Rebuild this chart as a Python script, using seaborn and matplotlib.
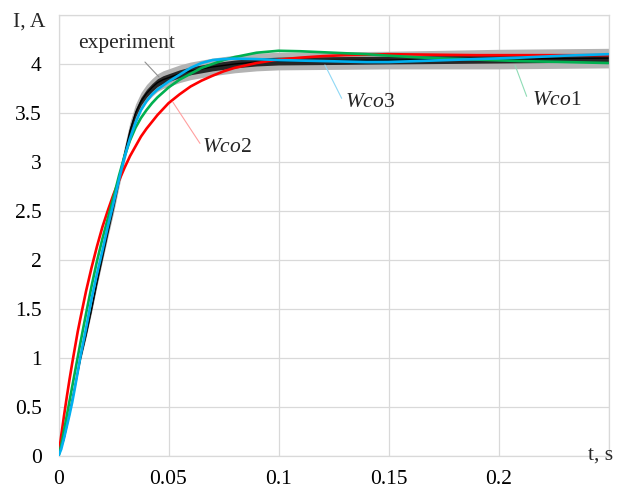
import numpy as np
import pandas as pd
import matplotlib
matplotlib.use("Agg")
import matplotlib.pyplot as plt
import seaborn as sns

# ---- data ----
t_model = [0, 0.00125, 0.0025, 0.00375, 0.005, 0.00625, 0.0075, 0.00875, 0.01,
           0.0125, 0.015, 0.0175, 0.02, 0.0225, 0.025, 0.0275, 0.03, 0.0325,
           0.035, 0.0375, 0.04, 0.0425, 0.045, 0.0475, 0.05, 0.055, 0.06, 0.065,
           0.07, 0.075, 0.08, 0.09, 0.1, 0.11, 0.12, 0.13, 0.14, 0.15, 0.17,
           0.19, 0.21, 0.23, 0.25]
i_wco1 = [0, 0.11, 0.26, 0.41, 0.56, 0.71, 0.86, 1.01, 1.16,
          1.45, 1.73, 1.99, 2.22, 2.43, 2.64, 2.86, 3.06, 3.22,
          3.35, 3.45, 3.53, 3.60, 3.66, 3.71, 3.76, 3.84, 3.90, 3.96,
          4.00, 4.04, 4.07, 4.115, 4.135, 4.13, 4.12, 4.11, 4.10, 4.085, 4.06,
          4.045, 4.03, 4.02, 4.01]
i_wco2 = [0, 0.21, 0.41, 0.60, 0.78, 0.95, 1.11, 1.27, 1.41,
          1.68, 1.92, 2.14, 2.34, 2.51, 2.67, 2.81, 2.94, 3.06,
          3.16, 3.26, 3.34, 3.41, 3.48, 3.54, 3.60, 3.69, 3.77, 3.83,
          3.88, 3.925, 3.96, 4.01, 4.045, 4.065, 4.08, 4.09, 4.095, 4.10, 4.095,
          4.09, 4.09, 4.09, 4.09]
i_wco3 = [0, 0.07, 0.18, 0.30, 0.42, 0.55, 0.70, 0.86, 1.02,
          1.30, 1.60, 1.86, 2.10, 2.35, 2.58, 2.82, 3.05, 3.24,
          3.40, 3.53, 3.62, 3.69, 3.74, 3.78, 3.82, 3.89, 3.96, 4.01,
          4.04, 4.05, 4.055, 4.05, 4.04, 4.035, 4.03, 4.025, 4.02, 4.02, 4.035,
          4.05, 4.065, 4.085, 4.10]

t_exp = [0, 0.0025, 0.005, 0.0075, 0.01, 0.0125, 0.015, 0.0175, 0.02, 0.0225,
         0.025, 0.0275, 0.03, 0.0325, 0.035, 0.0375, 0.04, 0.0425, 0.045, 0.0475,
         0.05, 0.055, 0.06, 0.065, 0.07, 0.08, 0.09, 0.1, 0.15, 0.2, 0.25]
i_exp = [0, 0.18, 0.44, 0.72, 1.00, 1.24, 1.50, 1.78, 2.04, 2.30,
         2.55, 2.82, 3.08, 3.32, 3.50, 3.62, 3.70, 3.76, 3.81, 3.84,
         3.86, 3.90, 3.93, 3.95, 3.97, 4.00, 4.02, 4.03, 4.04, 4.05, 4.06]
exp_core = [0, 0.01, 0.012, 0.015, 0.015, 0.018, 0.02, 0.022, 0.025, 0.028,
            0.03, 0.032, 0.035, 0.04, 0.04, 0.04, 0.04, 0.04, 0.04, 0.04,
            0.04, 0.04, 0.04, 0.04, 0.04, 0.04, 0.04, 0.04, 0.04, 0.04, 0.04]
exp_spike = [0, 0.02, 0.025, 0.03, 0.03, 0.035, 0.04, 0.045, 0.05, 0.06,
             0.07, 0.075, 0.08, 0.09, 0.09, 0.09, 0.09, 0.09, 0.09, 0.09,
             0.09, 0.09, 0.09, 0.09, 0.09, 0.09, 0.09, 0.09, 0.09, 0.10, 0.10]

x_ticks = [0, 0.05, 0.1, 0.15, 0.2, 0.25]
x_labels = ["0", "0.05", "0.1", "0.15", "0.2", ""]
y_ticks = [0, 0.5, 1, 1.5, 2, 2.5, 3, 3.5, 4, 4.5]
y_labels = ["0", "0.5", "1", "1.5", "2", "2.5", "3", "3.5", "4", ""]

series_names = ["Wco2", "Wco1", "Wco3"]
series_colors = {"Wco1": "#00b050", "Wco2": "#ff0000", "Wco3": "#00b0f0"}

# ---- figure ----
sns.set_theme(style="white")
plt.rcParams['font.family'] = ['Liberation Serif', 'DejaVu Serif']
plt.rcParams['mathtext.fontset'] = 'custom'
plt.rcParams['mathtext.it'] = 'Liberation Serif:italic'
plt.rcParams['mathtext.rm'] = 'Liberation Serif'

FS = 15.5

fig = plt.figure(figsize=(6.19, 4.90), dpi=100)
ax = fig.add_axes([58.5 / 619, 34 / 490, 550 / 619, 441 / 490])

# experiment: noisy band
t_e = np.array(t_exp)
c_e = np.array(i_exp)
core = np.array(exp_core)
spike = np.array(exp_spike)
ax.fill_between(t_e, c_e - spike, c_e + spike, color="#b3b3b3", lw=0, zorder=2)
ax.fill_between(t_e, c_e - core, c_e + core, color="#262626", lw=0, zorder=2.1)
exp_df = pd.DataFrame({"t": t_exp, "I": i_exp})
sns.lineplot(data=exp_df, x="t", y="I", color="black", lw=1.0, ax=ax,
             sort=False, zorder=2.2)

# model curves
rows = []
for name, vals in (("Wco1", i_wco1), ("Wco2", i_wco2), ("Wco3", i_wco3)):
    for tt, vv in zip(t_model, vals):
        rows.append({"t": tt, "I": vv, "model": name})
df = pd.DataFrame(rows)
sns.lineplot(data=df, x="t", y="I", hue="model", hue_order=series_names,
             palette=series_colors, lw=1.9, ax=ax, sort=False, legend=False,
             zorder=3)

ax.set_xlim(0, 0.25)
ax.set_ylim(0, 4.5)
ax.set_xticks(x_ticks)
ax.set_xticklabels(x_labels)
ax.set_yticks(y_ticks)
ax.set_yticklabels(y_labels)
ax.set_xlabel("")
ax.set_ylabel("")
ax.grid(True, color="#d9d9d9", lw=0.9)
ax.set_axisbelow(True)
for s in ax.spines.values():
    s.set_color("#d9d9d9")
    s.set_linewidth(0.9)
ax.tick_params(axis="both", length=0, labelsize=FS, colors="black")
ax.tick_params(axis="y", pad=12)
ax.tick_params(axis="x", pad=10)

# axis titles
fig.text(13 / 619, 1 - 22 / 490, "I, A", fontsize=FS, ha="left", va="center")
fig.text(613 / 619, 1 - 455 / 490, "t, s", fontsize=FS, ha="right", va="center")

# annotations
def leader(p0, p1, color):
    ax.plot([p0[0], p1[0]], [p0[1], p1[1]], color=color, lw=0.8, zorder=4)

leader((0.0393, 4.02), (0.0457, 3.867), "#909090")
ax.text(0.0311, 4.168, "experiment", fontsize=FS, ha="center", va="baseline", zorder=5)

leader((0.052, 3.61), (0.0643, 3.19), "#ff9f9f")
ax.text(0.0652, 3.10, r"$Wco2$", fontsize=15.5, ha="left", va="baseline", zorder=5)
leader((0.1211, 3.99), (0.1287, 3.65), "#8fd8f5")
ax.text(0.1302, 3.56, r"$Wco3$", fontsize=15.5, ha="left", va="baseline", zorder=5)
leader((0.2075, 3.99), (0.2128, 3.67), "#8fdcb6")
ax.text(0.2151, 3.58, r"$Wco1$", fontsize=15.5, ha="left", va="baseline", zorder=5)

fig.savefig("out.png", dpi=100)
